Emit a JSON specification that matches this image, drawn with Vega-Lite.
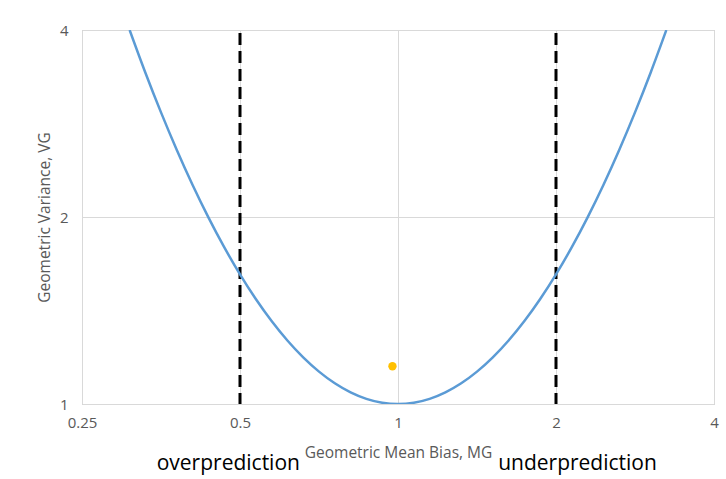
{
  "$schema": "https://vega.github.io/schema/vega-lite/v6.json",
  "width": 632,
  "height": 374,
  "autosize": {"type": "none"},
  "padding": {"left": 82, "top": 30, "right": 12, "bottom": 75},
  "background": "white",
  "config": {
    "view": {"stroke": "#BFBFBF", "strokeWidth": 1},
    "font": "Open Sans",
    "axis": {
      "gridColor": "#D9D9D9",
      "gridWidth": 1,
      "domain": false,
      "ticks": false,
      "labelColor": "#595959",
      "titleColor": "#595959",
      "labelFont": "Open Sans",
      "titleFont": "Open Sans",
      "labelFontSize": 15,
      "titleFontSize": 15.5,
      "titleFontWeight": "normal",
      "labelFlush": false,
      "labelOverlap": false
    }
  },
  "datasets": {
    "curve": [
      {"mg": 0.3081, "vg": 4.0},
      {"mg": 0.32988, "vg": 3.4206},
      {"mg": 0.35355, "vg": 2.9474},
      {"mg": 0.37893, "vg": 2.5642},
      {"mg": 0.40613, "vg": 2.2521},
      {"mg": 0.43528, "vg": 1.9974},
      {"mg": 0.46652, "vg": 1.7884},
      {"mg": 0.5, "vg": 1.6168},
      {"mg": 0.53589, "vg": 1.4757},
      {"mg": 0.57435, "vg": 1.36},
      {"mg": 0.61557, "vg": 1.2654},
      {"mg": 0.65975, "vg": 1.1888},
      {"mg": 0.70711, "vg": 1.1276},
      {"mg": 0.75786, "vg": 1.0799},
      {"mg": 0.81225, "vg": 1.0442},
      {"mg": 0.87055, "vg": 1.0194},
      {"mg": 0.93303, "vg": 1.0048},
      {"mg": 1.0, "vg": 1.0},
      {"mg": 1.07177, "vg": 1.0048},
      {"mg": 1.1487, "vg": 1.0194},
      {"mg": 1.23114, "vg": 1.0442},
      {"mg": 1.31951, "vg": 1.0799},
      {"mg": 1.41421, "vg": 1.1276},
      {"mg": 1.51572, "vg": 1.1888},
      {"mg": 1.6245, "vg": 1.2654},
      {"mg": 1.7411, "vg": 1.36},
      {"mg": 1.86607, "vg": 1.4757},
      {"mg": 2.0, "vg": 1.6168},
      {"mg": 2.14355, "vg": 1.7884},
      {"mg": 2.2974, "vg": 1.9974},
      {"mg": 2.46229, "vg": 2.2521},
      {"mg": 2.63902, "vg": 2.5642},
      {"mg": 2.82843, "vg": 2.9474},
      {"mg": 3.03143, "vg": 3.4206},
      {"mg": 3.2457, "vg": 4.0}
    ],
    "bounds": [{"mg": 0.5}, {"mg": 2}],
    "point": [{"mg": 0.976, "vg": 1.15}],
    "labels": [
      {"mg": 0.475, "vg": 0.783, "label": "overprediction"},
      {"mg": 2.198, "vg": 0.783, "label": "underprediction"}
    ]
  },
  "encoding": {
    "x": {
      "field": "mg",
      "type": "quantitative",
      "scale": {"type": "log", "base": 2, "domain": [0.25, 4], "nice": false},
      "axis": {
        "values": [0.25, 0.5, 1, 2, 4],
        "labelPadding": 11,
        "labelExpr": "datum.value",
        "title": "Geometric Mean Bias, MG",
        "titlePadding": 15
      }
    },
    "y": {
      "field": "vg",
      "type": "quantitative",
      "scale": {"type": "log", "base": 2, "domain": [1, 4], "nice": false},
      "axis": {
        "values": [1, 2, 4],
        "labelPadding": 14,
        "labelExpr": "datum.value",
        "title": "Geometric Variance, VG",
        "titlePadding": 7
      }
    }
  },
  "layer": [
    {
      "data": {"name": "bounds"},
      "mark": {"type": "rule", "color": "black", "strokeWidth": 3, "strokeDash": [12, 6], "strokeDashOffset": -3},
      "encoding": {"y": null}
    },
    {
      "data": {"name": "curve"},
      "mark": {"type": "line", "color": "#5B9BD5", "strokeWidth": 2.5, "interpolate": "monotone", "clip": true}
    },
    {
      "data": {"name": "point"},
      "mark": {"type": "point", "filled": true, "color": "#FFC000", "opacity": 1, "size": 70}
    },
    {
      "data": {"name": "labels"},
      "mark": {"type": "text", "fontSize": 21, "font": "Open Sans", "color": "black", "baseline": "alphabetic", "align": "center"},
      "encoding": {"text": {"field": "label"}}
    }
  ]
}
